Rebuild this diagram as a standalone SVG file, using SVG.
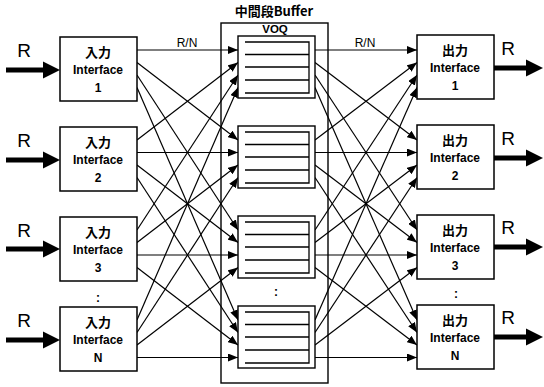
<svg xmlns="http://www.w3.org/2000/svg" width="544" height="387" viewBox="0 0 544 387">
<style>
.box{fill:#fff;stroke:#000;stroke-width:1.5}
.q{fill:#fff;stroke:#000;stroke-width:1.4}
.ql{fill:none;stroke:#000;stroke-width:1.3}
.c{stroke:#000;stroke-width:1.2;fill:none;marker-end:url(#ah)}
.fat{stroke:#000;stroke-width:5;fill:none}
.t{font-family:"Liberation Sans","Noto Sans CJK JP",sans-serif;font-weight:bold;font-size:12px;text-anchor:middle;fill:#000}
.j{font-family:"Noto Sans CJK JP","Liberation Sans",sans-serif;font-weight:bold;font-size:13px;text-anchor:middle;fill:#000}
.r{font-family:"Liberation Sans",sans-serif;font-size:19px;text-anchor:middle;fill:#000}
.l{font-family:"Liberation Sans",sans-serif;font-size:12px;text-anchor:middle;fill:#000}
</style>
<defs>
<marker id="ah" markerUnits="userSpaceOnUse" markerWidth="10" markerHeight="8" refX="10" refY="4" orient="auto">
<path d="M0,0 L10,4 L0,8 z" fill="#000"/>
</marker>
<g id="queueShape">
<rect x="238" y="0" width="77" height="62" class="q"/>
<path class="ql" d="M245,6 H309 V57 H245 M245,18.5 H309 M245,31 H309 M245,44 H309"/>
</g>
</defs>
<rect width="544" height="387" fill="#fff"/>

<g id="buffer">
<rect x="221" y="23" width="107" height="360" fill="none" stroke="#000" stroke-width="1.4"/>
<text x="274" y="16" class="j">中間段Buffer</text>
<text x="275" y="33" class="t" style="font-size:11.5px">VOQ</text>
</g>

<g id="connectors">
<!-- input i -> queue j -->
<line class="c" x1="137" y1="50" x2="238" y2="50"/>
<line class="c" x1="137" y1="62.5" x2="238" y2="140"/>
<line class="c" x1="137" y1="75" x2="238" y2="230"/>
<line class="c" x1="137" y1="87.5" x2="238" y2="320"/>
<line class="c" x1="137" y1="140" x2="238" y2="62.5"/>
<line class="c" x1="137" y1="152.5" x2="238" y2="152.5"/>
<line class="c" x1="137" y1="165" x2="238" y2="242.5"/>
<line class="c" x1="137" y1="177.5" x2="238" y2="332.5"/>
<line class="c" x1="137" y1="230" x2="238" y2="75"/>
<line class="c" x1="137" y1="242.5" x2="238" y2="165"/>
<line class="c" x1="137" y1="255" x2="238" y2="255"/>
<line class="c" x1="137" y1="267.5" x2="238" y2="345"/>
<line class="c" x1="137" y1="320" x2="238" y2="87.5"/>
<line class="c" x1="137" y1="332.5" x2="238" y2="177.5"/>
<line class="c" x1="137" y1="345" x2="238" y2="267.5"/>
<line class="c" x1="137" y1="357.5" x2="238" y2="357.5"/>
<!-- queue j -> output k -->
<line class="c" x1="315" y1="50" x2="417" y2="50"/>
<line class="c" x1="315" y1="62.5" x2="417" y2="140"/>
<line class="c" x1="315" y1="75" x2="417" y2="230"/>
<line class="c" x1="315" y1="87.5" x2="417" y2="320"/>
<line class="c" x1="315" y1="140" x2="417" y2="62.5"/>
<line class="c" x1="315" y1="152.5" x2="417" y2="152.5"/>
<line class="c" x1="315" y1="165" x2="417" y2="242.5"/>
<line class="c" x1="315" y1="177.5" x2="417" y2="332.5"/>
<line class="c" x1="315" y1="230" x2="417" y2="75"/>
<line class="c" x1="315" y1="242.5" x2="417" y2="165"/>
<line class="c" x1="315" y1="255" x2="417" y2="255"/>
<line class="c" x1="315" y1="267.5" x2="417" y2="345"/>
<line class="c" x1="315" y1="320" x2="417" y2="87.5"/>
<line class="c" x1="315" y1="332.5" x2="417" y2="177.5"/>
<line class="c" x1="315" y1="345" x2="417" y2="267.5"/>
<line class="c" x1="315" y1="357.5" x2="417" y2="357.5"/>
<!-- R arrows in -->
<g>
<line class="fat" x1="6" y1="70" x2="46" y2="70"/><path d="M43,61.5 L60,70 L43,78.5 z"/>
<line class="fat" x1="6" y1="160" x2="46" y2="160"/><path d="M43,151.5 L60,160 L43,168.5 z"/>
<line class="fat" x1="6" y1="249" x2="46" y2="249"/><path d="M43,240.5 L60,249 L43,257.5 z"/>
<line class="fat" x1="6" y1="340" x2="46" y2="340"/><path d="M43,331.5 L60,340 L43,348.5 z"/>
</g>
<!-- R arrows out -->
<g>
<line class="fat" x1="494" y1="68" x2="529" y2="68"/><path d="M526,59.5 L543,68 L526,76.5 z"/>
<line class="fat" x1="494" y1="158" x2="529" y2="158"/><path d="M526,149.5 L543,158 L526,166.5 z"/>
<line class="fat" x1="494" y1="247" x2="529" y2="247"/><path d="M526,238.5 L543,247 L526,255.5 z"/>
<line class="fat" x1="494" y1="337" x2="529" y2="337"/><path d="M526,328.5 L543,337 L526,345.5 z"/>
</g>
<text x="187" y="47" class="l">R/N</text>
<text x="365" y="47" class="l">R/N</text>
<text x="24" y="57" class="r">R</text>
<text x="24" y="147" class="r">R</text>
<text x="24" y="237" class="r">R</text>
<text x="24" y="327" class="r">R</text>
<text x="508" y="55" class="r">R</text>
<text x="508" y="145" class="r">R</text>
<text x="508" y="234" class="r">R</text>
<text x="508" y="324" class="r">R</text>
</g>

<g id="q1"><use href="#queueShape" y="36"/></g>
<g id="q2"><use href="#queueShape" y="126"/></g>
<g id="q3"><use href="#queueShape" y="216"/></g>
<g id="qN"><use href="#queueShape" y="306"/></g>
<text x="276" y="296" class="t">:</text>

<g id="in1"><rect x="60" y="37" width="77" height="64" class="box"/><text x="98" y="57" class="j">入力</text><text x="98" y="74" class="t">Interface</text><text x="98" y="92" class="t">1</text></g>
<g id="in2"><rect x="60" y="127" width="77" height="64" class="box"/><text x="98" y="147" class="j">入力</text><text x="98" y="164" class="t">Interface</text><text x="98" y="182" class="t">2</text></g>
<g id="in3"><rect x="60" y="217" width="77" height="64" class="box"/><text x="98" y="237" class="j">入力</text><text x="98" y="254" class="t">Interface</text><text x="98" y="272" class="t">3</text></g>
<text x="98" y="302" class="t">:</text>
<g id="inN"><rect x="60" y="307" width="77" height="64" class="box"/><text x="98" y="327" class="j">入力</text><text x="98" y="344" class="t">Interface</text><text x="98" y="362" class="t">N</text></g>

<g id="out1"><rect x="417" y="35" width="77" height="64" class="box"/><text x="455" y="55" class="j">出力</text><text x="455" y="72" class="t">Interface</text><text x="455" y="90" class="t">1</text></g>
<g id="out2"><rect x="417" y="125" width="77" height="64" class="box"/><text x="455" y="145" class="j">出力</text><text x="455" y="162" class="t">Interface</text><text x="455" y="180" class="t">2</text></g>
<g id="out3"><rect x="417" y="215" width="77" height="64" class="box"/><text x="455" y="235" class="j">出力</text><text x="455" y="252" class="t">Interface</text><text x="455" y="270" class="t">3</text></g>
<text x="456" y="298" class="t">:</text>
<g id="outN"><rect x="417" y="305" width="77" height="64" class="box"/><text x="455" y="325" class="j">出力</text><text x="455" y="342" class="t">Interface</text><text x="455" y="360" class="t">N</text></g>
</svg>
